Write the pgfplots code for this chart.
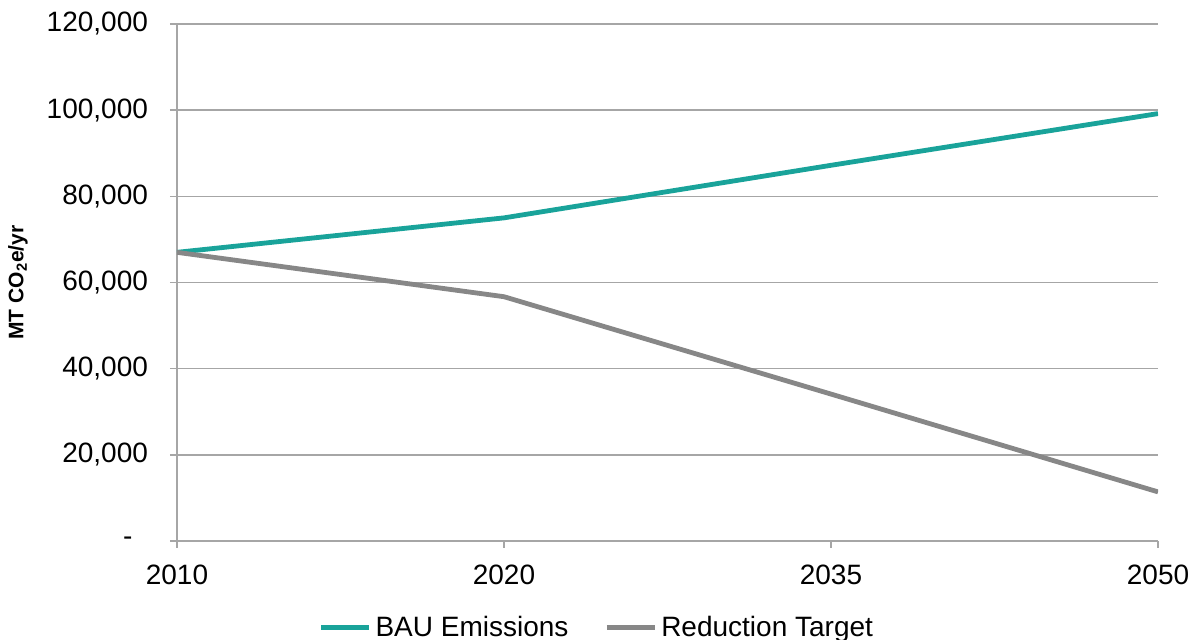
\documentclass[border=0pt]{standalone}
\usepackage{pgfplots}
\pgfplotsset{compat=1.18}
\usepackage{fontspec}
\setmainfont{Liberation Sans}

\definecolor{bauteal}{HTML}{19A39A}
\definecolor{targetgray}{HTML}{878787}
\definecolor{gridgray}{HTML}{A6A6A6}

\begin{document}
\begin{tikzpicture}
% fixed page frame around the plot area
\path[use as bounding box] (-88.5pt,-49.5pt) rectangle (507.5pt,270.5pt);
\begin{axis}[
  at={(0pt,0pt)}, anchor=south west,
  scale only axis,
  width=490.5pt, height=258.5pt,
  font=\fontsize{14}{16}\selectfont,
  xmin=0, xmax=3,
  ymin=0, ymax=120000,
  scaled y ticks=false,
  xtick={0,1,2,3},
  xticklabels={2010,2020,2035,2050},
  ytick={0,20000,40000,60000,80000,100000,120000},
  yticklabels={{-\hphantom{0}},{20,000},{40,000},{60,000},{80,000},{100,000},{120,000}},
  axis x line*=bottom,
  axis y line*=left,
  axis line style={gridgray, line width=0.75pt},
  tick style={gridgray, line width=0.75pt},
  tick align=outside,
  major tick length=3.5pt,
  ymajorgrids,
  grid style={gridgray, line width=0.75pt},
  yticklabel style={xshift=-7.5pt},
  xticklabel style={yshift=-5pt},
  ylabel={\bfseries MT CO\textsubscript{2}e/yr},
  ylabel style={at={(axis description cs:-0.162,0.5)}, anchor=center,
    font=\fontsize{10.5}{12}\selectfont},
  legend style={at={(0.429,-0.168)}, anchor=center, draw=none,
    legend columns=2, font=\fontsize{14}{16}\selectfont,
    /tikz/every even column/.append style={column sep=16pt}},
  legend image code/.code={\draw[#1] (0pt,0pt) -- (24pt,0pt);},
]
\addplot[bauteal, line width=2.4pt, line join=round] coordinates {
  (0,67000) (1,75000) (2,87200) (3,99200)
};
\addlegendentry{BAU Emissions}
\addplot[targetgray, line width=2.4pt, line join=round] coordinates {
  (0,67000) (1,56700) (2,34100) (3,11400)
};
\addlegendentry{Reduction Target}
\end{axis}
\end{tikzpicture}
\end{document}
